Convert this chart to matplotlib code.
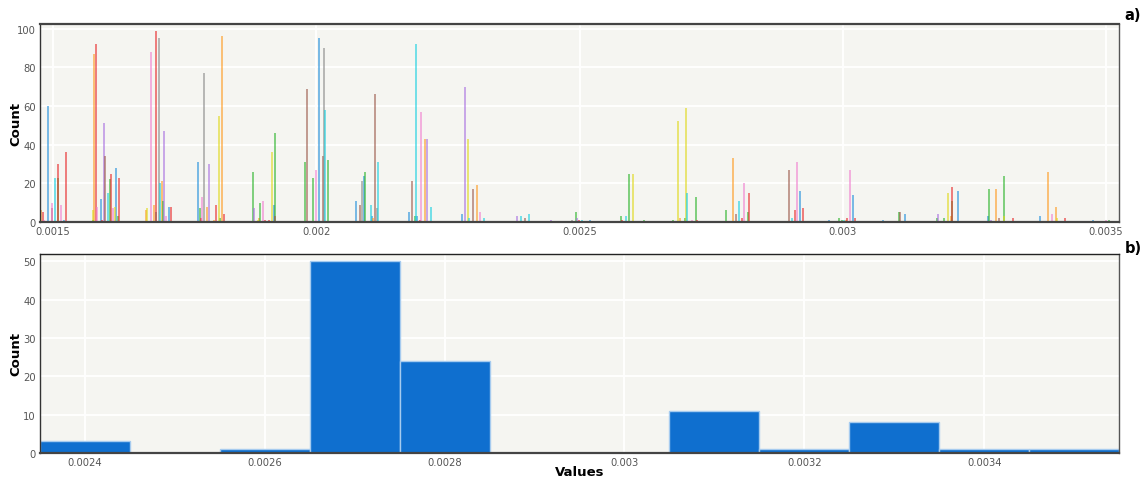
import matplotlib
matplotlib.use("Agg")
import matplotlib.pyplot as plt
import numpy as np
from matplotlib.ticker import FixedLocator, FuncFormatter

# ---- panel a): per-series spike histograms (value, count) ----
blue_x = [0.0014905, 0.0015209, 0.0015906, 0.0016202, 0.0017198, 0.0017760, 0.0019197, 0.0020046,
          0.0020761, 0.0020907, 0.0021053, 0.0021756, 0.0021913, 0.0022763, 0.0025199, 0.0029188,
          0.0029744, 0.0030189, 0.0030759, 0.0031182, 0.0032183, 0.0032753, 0.0033746, 0.0034747]
blue_n = [60, 1, 12, 28, 8, 31, 9, 95, 11, 24, 3, 5, 3, 4, 1, 16, 1, 14, 1, 4, 16, 3, 3, 1]

orange_x = [0.0014772, 0.0015779, 0.0016761, 0.0016918, 0.0017076, 0.0017925, 0.0018064, 0.0018210,
            0.0018918, 0.0021083, 0.0022060, 0.0023059, 0.0026909, 0.0027915, 0.0030067, 0.0032056,
            0.0032911, 0.0033904, 0.0034044]
orange_n = [6, 87, 6, 9, 21, 8, 1, 96, 2, 2, 43, 19, 2, 33, 1, 3, 17, 26, 8]

green_x = [0.0015089, 0.0015753, 0.0016088, 0.0016229, 0.0017089, 0.0017786, 0.0018172, 0.0018793,
           0.0018937, 0.0019217, 0.0019786, 0.0019933, 0.0020223, 0.0020932, 0.0021876, 0.0024928,
           0.0025782, 0.0025934, 0.0026225, 0.0026781, 0.0027009, 0.0027218, 0.0027782, 0.0028204,
           0.0029929, 0.0029980, 0.0031068, 0.0031784, 0.0031917, 0.0032069, 0.0032778, 0.0033068,
           0.0035066]
green_n = [23, 1, 22, 3, 11, 7, 2, 26, 10, 46, 31, 23, 32, 26, 3, 5, 3, 25, 1, 1, 2, 13, 6, 5,
           2, 1, 5, 2, 2, 11, 17, 24, 1]

red_x = [0.0014801, 0.0015101, 0.0015247, 0.0015811, 0.0015936, 0.0016102, 0.0016248, 0.0016951,
         0.0017241, 0.0017811, 0.0018096, 0.0018242, 0.0019027, 0.0019097, 0.0021970, 0.0024990,
         0.0025801, 0.0027237, 0.0028092, 0.0028229, 0.0029087, 0.0029239, 0.0030086, 0.0030232,
         0.0032081, 0.0033233, 0.0034227]
red_n = [5, 30, 36, 92, 1, 25, 23, 99, 8, 2, 9, 4, 1, 1, 1, 1, 1, 1, 2, 15, 6, 7, 2, 2, 18, 2, 2]

purple_x = [0.0015969, 0.0017114, 0.0017969, 0.0018823, 0.0022109, 0.0022825, 0.0023813, 0.0024459,
            0.0024958, 0.0031809, 0.0032810]
purple_n = [51, 47, 30, 7, 43, 70, 3, 1, 2, 4, 1]

brown_x = [0.0014981, 0.0015982, 0.0016962, 0.0019211, 0.0019830, 0.0020122, 0.0020831, 0.0021122,
           0.0021824, 0.0022977, 0.0023970, 0.0027967, 0.0028979, 0.0031082, 0.0032968]
brown_n = [7, 34, 5, 3, 69, 34, 9, 66, 21, 17, 2, 4, 27, 5, 2]

pink_x = [0.0014829, 0.0014972, 0.0015146, 0.0015841, 0.0016145, 0.0016856, 0.0017141, 0.0017824,
          0.0018994, 0.0019990, 0.0021989, 0.0023110, 0.0027131, 0.0028130, 0.0029131, 0.0030137,
          0.0033974, 0.0034999]
pink_n = [1, 10, 9, 8, 7, 88, 3, 13, 11, 27, 57, 5, 1, 20, 31, 27, 4, 1]

gray_x = [0.0017008, 0.0017862, 0.0020153, 0.0020863, 0.0021148, 0.0024858]
gray_n = [95, 77, 90, 21, 7, 1]

olive_x = [0.0015765, 0.0016178, 0.0016780, 0.0018159, 0.0018888, 0.0019165, 0.0022876, 0.0026016,
           0.0026871, 0.0027023, 0.0032004, 0.0033057, 0.0034063]
olive_n = [6, 8, 7, 55, 1, 36, 43, 25, 52, 59, 15, 3, 2]

cyan_x = [0.0015044, 0.0016045, 0.0017038, 0.0020172, 0.0021034, 0.0021178, 0.0021894, 0.0022174,
          0.0022895, 0.0023186, 0.0023889, 0.0024035, 0.0025042, 0.0025883, 0.0027048, 0.0028024,
          0.0029042, 0.0030029]
cyan_n = [23, 15, 20, 58, 9, 31, 92, 8, 2, 2, 3, 4, 1, 3, 15, 11, 2, 1]

series = [
    (blue_x, blue_n, "#1f8fdc"),
    (orange_x, orange_n, "#ff9a1f"),
    (green_x, green_n, "#2cb52c"),
    (red_x, red_n, "#e8282a"),
    (purple_x, purple_n, "#a86fe0"),
    (brown_x, brown_n, "#9c5a4c"),
    (pink_x, pink_n, "#f07ed0"),
    (gray_x, gray_n, "#8a8a8a"),
    (olive_x, olive_n, "#e0d81a"),
    (cyan_x, cyan_n, "#17d0e0"),
]

# ---- panel b): histogram of values ----
bin_edges = [0.00235, 0.00245, 0.00255, 0.00265, 0.00275, 0.00285, 0.00295,
             0.00305, 0.00315, 0.00325, 0.00335, 0.00345, 0.00355]
bin_counts = [3, 0, 1, 50, 24, 0, 0, 11, 1, 8, 1, 1]

top_xticks = [0.0015, 0.002, 0.0025, 0.003, 0.0035]
top_yticks = [0, 20, 40, 60, 80, 100]
bot_xticks = [0.0024, 0.0026, 0.0028, 0.003, 0.0032, 0.0034]
bot_yticks = [0, 10, 20, 30, 40, 50]

W, H = 1145, 481
fig = plt.figure(figsize=(W / 100, H / 100), dpi=100)
fig.patch.set_facecolor("white")

ax_a = fig.add_axes([40 / W, 1 - 223 / H, 1079 / W, 198 / H])
ax_b = fig.add_axes([40 / W, 1 - 454 / H, 1079 / W, 199 / H])

fmt = FuncFormatter(lambda v, p: "%g" % v)


def style(ax, xticks, yticks):
    ax.set_facecolor("#f5f5f1")
    ax.set_axisbelow(True)
    ax.grid(True, color="white", linewidth=1.3)
    ax.xaxis.set_major_locator(FixedLocator(xticks))
    ax.yaxis.set_major_locator(FixedLocator(yticks))
    ax.xaxis.set_major_formatter(fmt)
    ax.tick_params(length=0, labelsize=7.2, labelcolor="#555555", pad=3)
    for side in ("top", "right"):
        ax.spines[side].set_color("#555555")
        ax.spines[side].set_linewidth(1.0)
    ax.spines["left"].set_color("#333333")
    ax.spines["left"].set_linewidth(1.0)
    ax.spines["bottom"].set_color("#444444")
    ax.spines["bottom"].set_linewidth(1.6)


# panel a)
spike_w = 3.8e-6
for xs, ns, c in series:
    ax_a.bar(xs, ns, width=spike_w, color=c, alpha=0.58, linewidth=0, align="center")
style(ax_a, top_xticks, top_yticks)
ax_a.set_xlim(0.001475, 0.003525)
ax_a.set_ylim(0, 102.4)
ax_a.spines["top"].set_linewidth(1.6)
ax_a.spines["top"].set_color("#444444")
ax_a.set_ylabel("Count", fontsize=9.5, fontweight="bold")
ax_a.yaxis.set_label_coords(-18 / 1079, 0.5)

# panel b)
widths = np.diff(bin_edges)
ax_b.bar(bin_edges[:-1], bin_counts, width=widths, align="edge",
         color="#0f6fcf", edgecolor="#a6cbef", linewidth=1.0)
style(ax_b, bot_xticks, bot_yticks)
ax_b.set_xlim(0.00235, 0.00355)
ax_b.set_ylim(0, 51.9)
ax_b.spines["top"].set_color("#222222")
ax_b.set_ylabel("Count", fontsize=9.5, fontweight="bold")
ax_b.yaxis.set_label_coords(-18 / 1079, 0.5)
ax_b.set_xlabel("Values", fontsize=9.5, fontweight="bold")
ax_b.xaxis.set_label_coords(0.5, -12 / 199)

fig.text(1133 / W, 1 - 16 / H, "a)", fontsize=10.5, fontweight="bold", ha="center", va="center")
fig.text(1133 / W, 1 - 249 / H, "b)", fontsize=10.5, fontweight="bold", ha="center", va="center")

fig.savefig("out.png", dpi=100)
